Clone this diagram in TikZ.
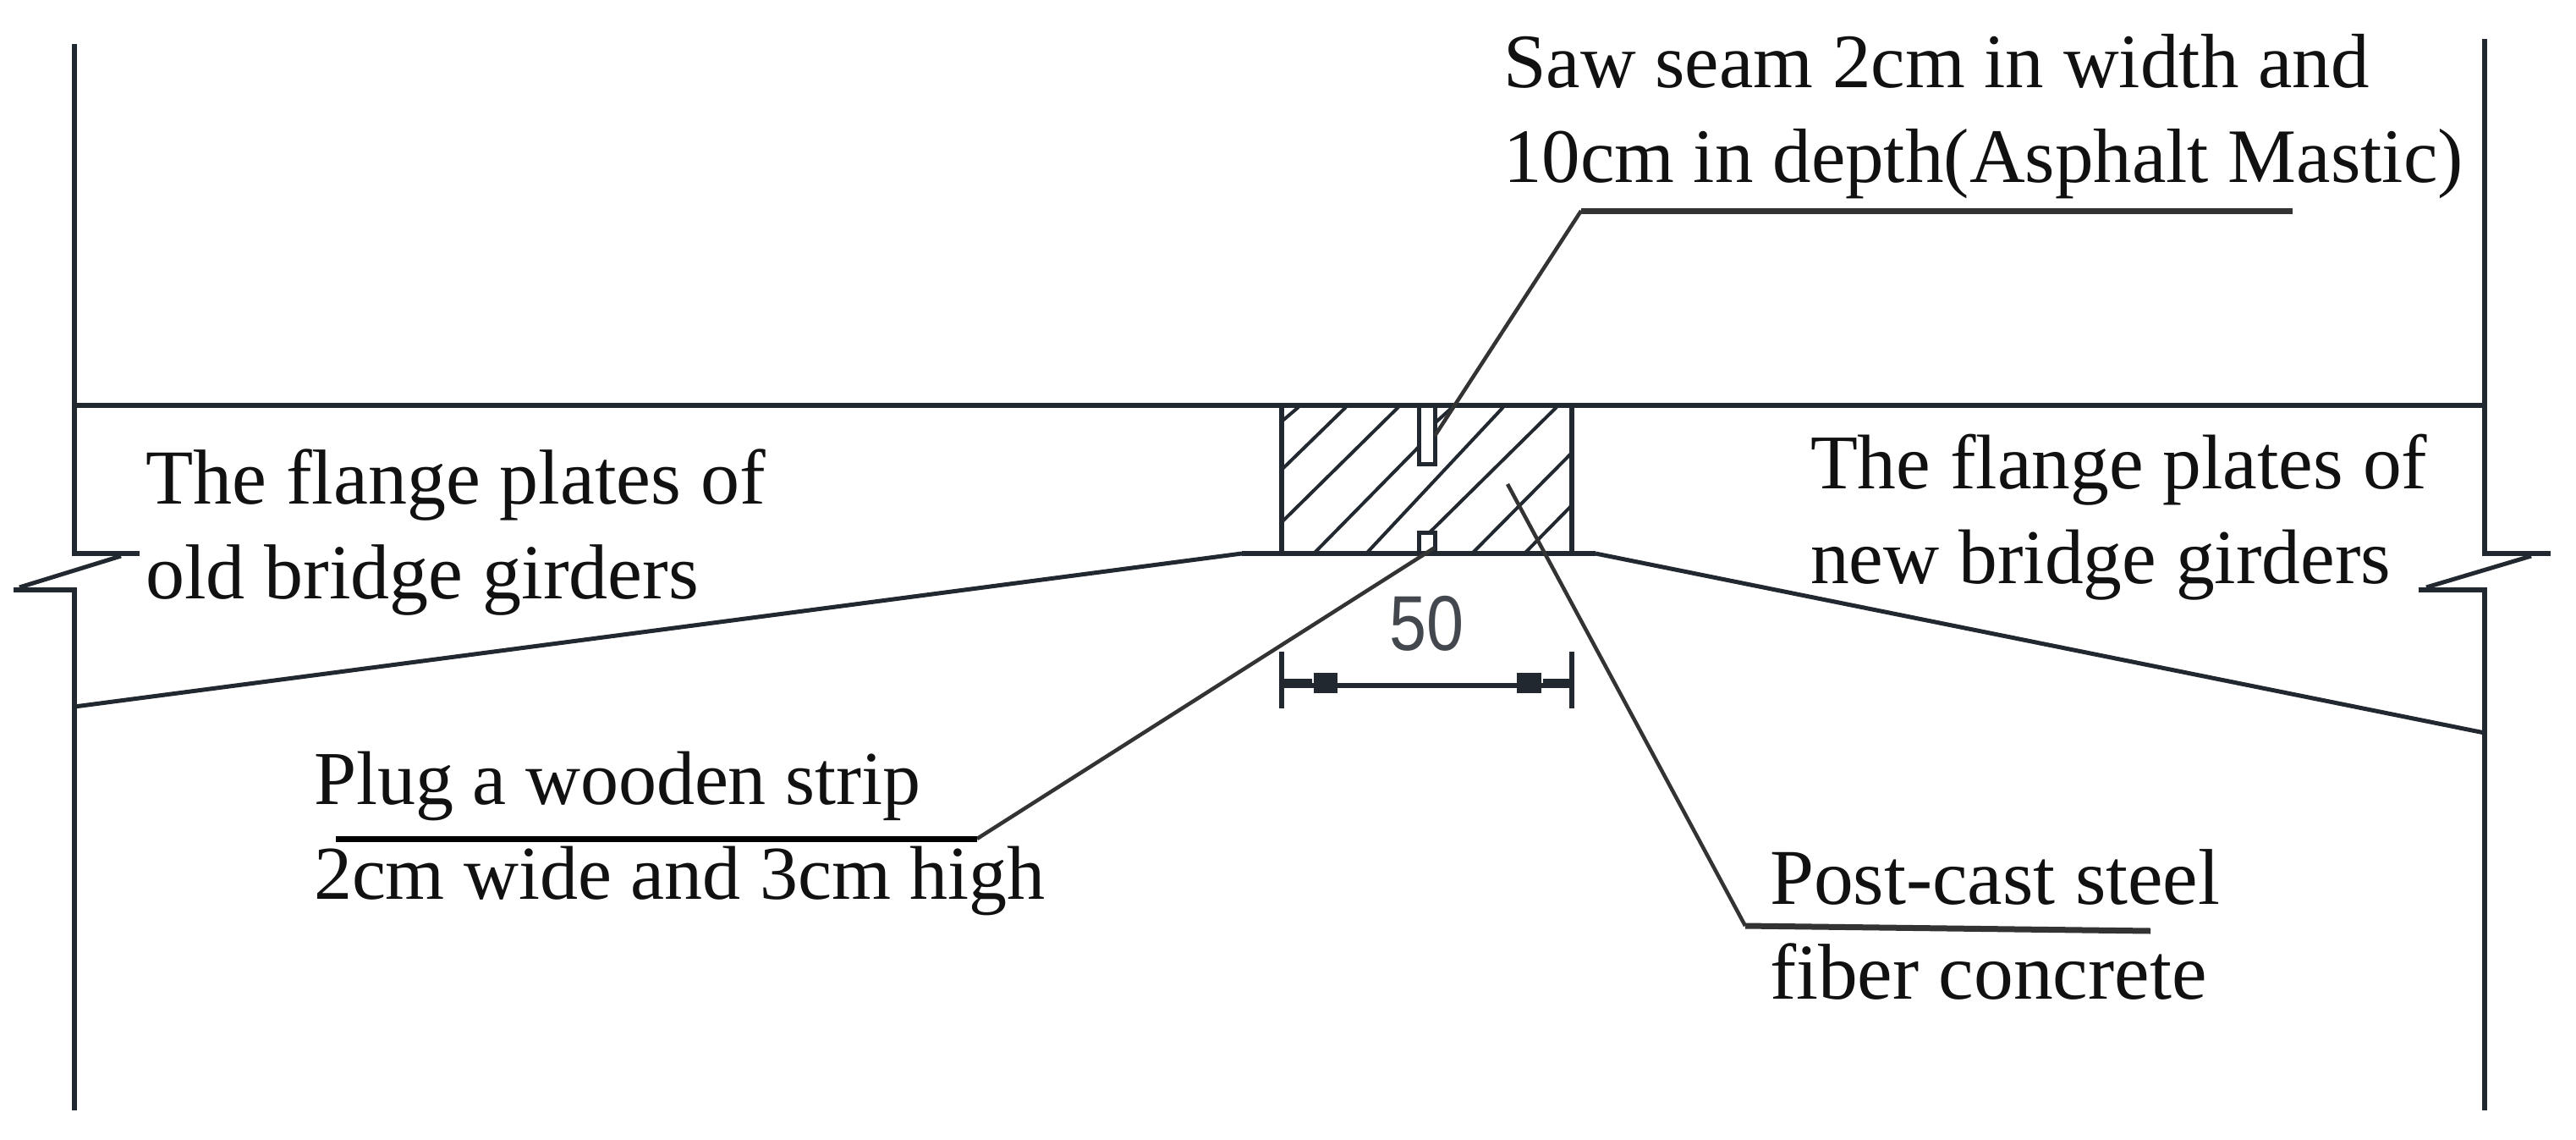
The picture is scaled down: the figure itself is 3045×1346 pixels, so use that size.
\documentclass[tikz,border=0pt]{standalone}
\usepackage{fontspec}
\setmainfont{Liberation Serif}
\newfontfamily\dimfont{Liberation Sans}
\definecolor{inkline}{HTML}{22282F}
\definecolor{leaderline}{HTML}{333333}
\definecolor{labelink}{HTML}{111111}
\tikzset{
  heavy/.style={draw=inkline,line width=6pt,line cap=butt,line join=miter},
  slant/.style={draw=inkline,line width=5pt},
  hatch/.style={draw=inkline,line width=4pt},
  wall/.style={draw=inkline,line width=6pt},
  leader/.style={draw=leaderline,line width=4.5pt},
  shelf/.style={draw=leaderline,line width=7pt},
  label/.style={inner sep=0pt,outer sep=0pt,anchor=north west,align=left,text=labelink,
    font=\fontsize{#1}{112}\selectfont},
}
\begin{document}
\begin{tikzpicture}[x=1pt,y=-1pt]
\useasboundingbox (0,0) rectangle (3045,1346);
% walls
\draw[heavy] (88,52) -- (88,654) -- (165,654);
\draw[heavy] (16,697) -- (88,697) -- (88,1312);
\draw[heavy] (2937,46) -- (2937,654) -- (3015,654);
\draw[heavy] (2859,697) -- (2937,697) -- (2937,1312);
\draw[slant] (143,657) -- (23,694);
\draw[slant] (2992,657) -- (2868,694);
% deck and girder soffits
\draw[heavy] (88,479) -- (2937,479);
\draw[slant] (88,835) -- (1468,654);
\draw[heavy] (1468,654) -- (1886,654);
\draw[slant] (1886,654) -- (2937,866);
% joint block
\draw[wall] (1515,479) -- (1515,654);
\draw[wall] (1858,479) -- (1858,654);
\draw[line width=5pt,draw=inkline] (1677,479) -- (1677,548) -- (1696,548) -- (1696,479);
\draw[line width=5pt,draw=inkline] (1677,654) -- (1677,629) -- (1696,629) -- (1696,654);
% hatching
\draw[hatch] (1515,498) -- (1535,481);
\draw[hatch] (1515,555) -- (1591,481);
\draw[hatch] (1515,617) -- (1653,481);
\draw[hatch] (1553,654) -- (1677,528);
\draw[hatch] (1696,500) -- (1717,481);
\draw[hatch] (1615,654) -- (1777,481);
\draw[hatch] (1690,629) -- (1840,481);
\draw[hatch] (1740,654) -- (1858,535);
\draw[hatch] (1802,654) -- (1858,597);
% dimension
\draw[wall] (1515,770) -- (1515,837);
\draw[wall] (1858,770) -- (1858,837);
\draw[line width=6pt,draw=inkline] (1515,810) -- (1858,810);
\draw[line width=11pt,draw=inkline] (1515,807.5) -- (1551,807.5);
\draw[line width=11pt,draw=inkline] (1824,807.5) -- (1858,807.5);
\fill[inkline] (1553,795) rectangle (1581,819);
\fill[inkline] (1793,795) rectangle (1822,819);
\node[inner sep=0pt,anchor=base,text=inkline!85!white] (dimlabel) at (1686,768)
  {\scalebox{0.86}[1]{\dimfont\fontsize{92}{92}\selectfont 50}};
% leaders
\coordinate (seamtip) at (1696,515);
\coordinate (seamknee) at (1869,249);
\coordinate (seamend) at (2710,249);
\coordinate (plugtip) at (1696,647);
\coordinate (plugknee) at (1155,991);
\coordinate (plugend) at (397,991);
\coordinate (posttip) at (1782,572);
\coordinate (postknee) at (2063,1094);
\coordinate (postend) at (2542,1100);
\draw[leader] (seamtip) -- (seamknee);
\draw[shelf] (seamknee) -- (seamend);
\draw[leader] (plugtip) -- (plugknee);
\draw[shelf,draw=black] (plugknee) -- (plugend);
\draw[leader] (posttip) -- (postknee);
\draw[shelf] (postknee) -- (postend);
% labels
\node[label=91] (sawlabel) at (1777,40) {Saw seam 2cm in width and\\10cm in depth(Asphalt Mastic)};
\node[label=92] (oldlabel) at (172,531) {The flange plates of\\old bridge girders};
\node[label=91.5] (newlabel) at (2140,513.5) {The flange plates of\\new bridge girders};
\node[label=90] (pluglabel) at (371,888.5) {Plug a wooden strip\\2cm wide and 3cm high};
\node[label=93.5] (postlabel) at (2092,1004) {Post-cast steel\\fiber concrete};
\end{tikzpicture}
\end{document}
